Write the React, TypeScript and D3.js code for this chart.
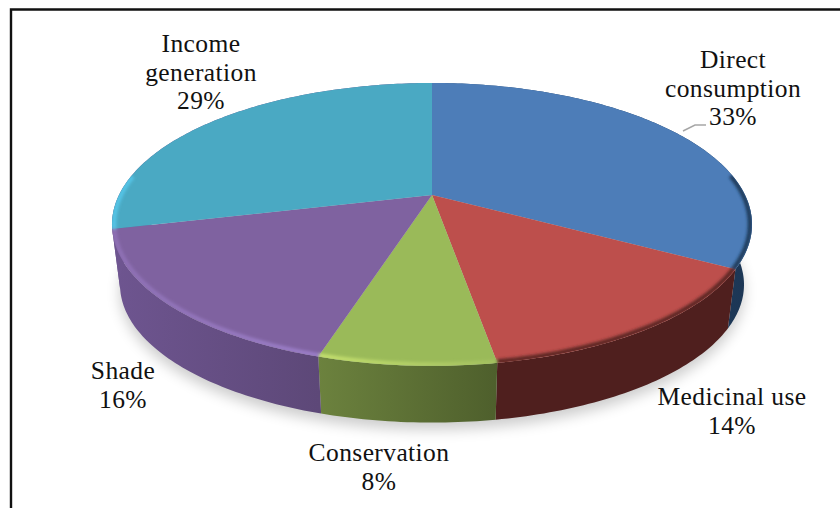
import React from "react";
import * as d3 from "d3";

const categories = ["Direct consumption", "Medicinal use", "Conservation", "Shade", "Income generation"];
const shares = [0.332, 0.1415, 0.0735, 0.1645, 0.2885];
const percentLabels = ["33%", "14%", "8%", "16%", "29%"];
const topColors = ["#4d7db8", "#bd4f4c", "#9aba59", "#7f62a0", "#4aa9c3"];
const rimStart = ["#1d3a5a", "#5a2523", "#c4e06e", "#8e70b4", "#55c4e6"];
const rimEnd = ["#1d3a5a", "#5a2523", "#a3c060", "#9b7ec8", "#55c4e6"];
const wallStart = ["#2a4f7c", "#4f1f1e", "#6c823e", "#6e5590", "#6e5590"];
const wallEnd = ["#1c3654", "#4f1f1e", "#4e5f2c", "#5d4878", "#6e5590"];
const labelLines = [["Direct", "consumption"], ["Medicinal use"], ["Conservation"], ["Shade"], ["Income", "generation"]];

const W = 840, H = 508;
const CX = 432, CY = 195;
const K = -0.208;
const xScale = d3.scaleLinear().domain([-1, 1]).range([CX - 313, CX + 313]);
const yScale = d3.scaleLinear().domain([-1, 1]).range([CY - 135.3, CY + 135.3]);

function project(a: number, r = 1, dy = 0, shrink = 1): [number, number] {
  const px = Math.sin(a) * r, py = -Math.cos(a) * r;
  const d = 1 + K * py;
  return [CX + (xScale(px / d) - CX) * shrink, CY + (yScale(py / d) - CY) * shrink + dy];
}
const line = d3.line<[number, number]>().x((p) => p[0]).y((p) => p[1]);
const sample = (a0: number, a1: number) => {
  const n = Math.max(2, Math.ceil((a1 - a0) * 60));
  return d3.range(n + 1).map((i) => a0 + ((a1 - a0) * i) / n);
};

const pie = d3.pie<number>().sort(null).value((d) => d);
const arcs = pie(shares);
const DEPTH = 61, SHR = 0.975;

// label block anchors
const labelX = [733, 732, 379, 123, 201];
const labelY = [68, 405, 461, 379, 52];
const LH = 28.5;

export default function App() {
  const outer = sample(0, Math.PI * 2);
  const outerBottom = outer.map((a) => project(a, 1, DEPTH, SHR));
  return (
    <svg width={W} height={H} viewBox={`0 0 ${W} ${H}`} style={{ position: "absolute", left: 0, top: 0, display: "block", background: "#fff" }}>
      <defs>
        <filter id="blurS" x="-20%" y="-20%" width="140%" height="140%"><feGaussianBlur stdDeviation="7" /></filter>
        <filter id="blurR" x="-10%" y="-10%" width="120%" height="120%"><feGaussianBlur stdDeviation="1.8" /></filter>
        <clipPath id="topClip"><path d={line(outer.map((a) => project(a)))! + "Z"} /></clipPath>
        {arcs.map((s, i) => {
          const xs = sample(s.startAngle, s.endAngle).map((a) => project(a)[0]);
          return (
            <React.Fragment key={i}>
              <linearGradient id={`wall${i}`} gradientUnits="userSpaceOnUse" x1={d3.min(xs)} x2={d3.max(xs)} y1={0} y2={0}>
                <stop offset="0" stopColor={wallStart[i]} />
                <stop offset="1" stopColor={wallEnd[i]} />
              </linearGradient>
              <linearGradient id={`rim${i}`} gradientUnits="userSpaceOnUse" x1={d3.min(xs)} x2={d3.max(xs)} y1={0} y2={0}>
                <stop offset="0" stopColor={rimStart[i]} />
                <stop offset="1" stopColor={rimEnd[i]} />
              </linearGradient>
            </React.Fragment>
          );
        })}
      </defs>

      {/* frame */}
      <path d={`M11 ${H}V9.5H${W}`} fill="none" stroke="#111" strokeWidth={2.4} />

      {/* ground shadow */}
      <path d={line(outerBottom.map((p) => [p[0], p[1] + 7] as [number, number]))! + "Z"} fill="#000" opacity={0.2} filter="url(#blurS)" />

      {/* walls */}
      {arcs.map((s, i) => {
        const ang = sample(s.startAngle, s.endAngle);
        const top = ang.map((a) => project(a));
        const bot = ang.map((a) => project(a, 1, DEPTH, SHR)).reverse();
        return <path key={i} d={line([...top, ...bot])! + "Z"} fill={`url(#wall${i})`} />;
      })}

      {/* top faces */}
      {arcs.map((s, i) => {
        const pts: [number, number][] = [[CX, CY], ...sample(s.startAngle, s.endAngle).map((a) => project(a))];
        return <path key={i} d={line(pts)! + "Z"} fill={topColors[i]} />;
      })}

      {/* bevel along the near rim, kept inside the top face */}
      <g clipPath="url(#topClip)">
        <g filter="url(#blurR)">
          {arcs.map((s, i) => {
            const pts = sample(s.startAngle, s.endAngle)
              .filter((a) => Math.cos(a) < 0.15)
              .map((a) => project(a, 0.994));
            return pts.length > 1 ? <path key={i} d={line(pts)!} fill="none" stroke={`url(#rim${i})`} strokeWidth={4.5} /> : null;
          })}
        </g>
      </g>

      {/* leader line */}
      <path d="M683 131L695 125H706" fill="none" stroke="#a6a6a6" strokeWidth={1.5} />

      {/* labels */}
      <g fontFamily="'Liberation Serif', serif" fontSize={25.5} fill="#111" textAnchor="middle">
        {categories.map((c, i) => {
          const lines = [...labelLines[i], percentLabels[i]];
          return lines.map((t, j) => (
            <text key={`${c}${j}`} x={labelX[i]} y={labelY[i] + j * LH} letterSpacing={0.4}>{t}</text>
          ));
        })}
      </g>
    </svg>
  );
}
